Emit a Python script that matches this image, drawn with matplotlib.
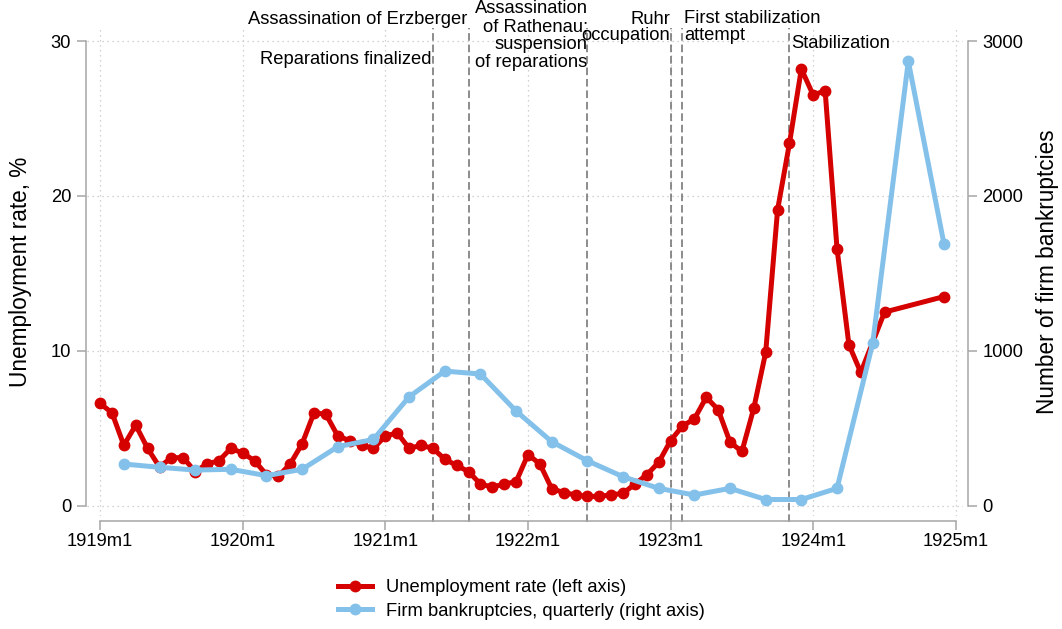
import matplotlib
matplotlib.use("Agg")
import matplotlib.pyplot as plt
from matplotlib.lines import Line2D

plt.rcParams['font.family'] = ['Liberation Sans', 'DejaVu Sans']

# ---------------- data ----------------
# month index: 0 = 1919m1
unemp_months = list(range(0, 65)) + [66, 71]
unemp_rate = [6.6, 6.0, 3.9, 5.2, 3.7, 2.5, 3.1, 3.1, 2.2, 2.7,
              2.9, 3.7, 3.4, 2.9, 2.0, 1.9, 2.7, 4.0, 6.0, 5.9,
              4.5, 4.2, 3.9, 3.7, 4.5, 4.7, 3.7, 3.9, 3.7, 3.0,
              2.6, 2.2, 1.4, 1.2, 1.4, 1.55, 3.3, 2.7, 1.1, 0.85,
              0.7, 0.6, 0.6, 0.7, 0.8, 1.4, 2.0, 2.8, 4.2, 5.15,
              5.6, 7.0, 6.2, 4.1, 3.5, 6.3, 9.9, 19.1, 23.4, 28.2,
              26.5, 26.8, 16.6, 10.4, 8.6, 12.5, 13.5]

bankr_months = [2, 5, 8, 11, 14, 17, 20, 23, 26, 29, 32, 35,
                38, 41, 44, 47, 50, 53, 56, 59, 62, 65, 68, 71]
bankruptcies = [269, 248, 230, 235, 194, 235, 381, 428, 703, 869, 850, 611,
                413, 290, 187, 112, 69, 112, 40, 40, 112, 1048, 2869, 1690]

xtick_pos = [0, 12, 24, 36, 48, 60, 72]
xtick_labels = ['1919m1', '1920m1', '1921m1', '1922m1', '1923m1', '1924m1', '1925m1']
left_ticks = [0, 10, 20, 30]
right_ticks = [0, 1000, 2000, 3000]

event_months = [28, 31, 41, 48, 49, 58]
event_labels = ['Reparations finalized', 'Assassination of Erzberger',
                'Assassination\nof Rathenau;\nsuspension\nof reparations',
                'Ruhr\noccupation', 'First stabilization', 'attempt', 'Stabilization']

# ---------------- style ----------------
RED = '#d50000'
BLUE = '#84c1ea'
GRAY = '#a6a6a6'
FS = 13.2

W, H = 1062, 629
fig = plt.figure(figsize=(W / 100, H / 100), dpi=100)
left_px, right_px, top_px, bot_px = 87, 963, 28, 516
ax = fig.add_axes([left_px / W, 1 - bot_px / H, (right_px - left_px) / W, (bot_px - top_px) / H])
ax2 = ax.twinx()

ax.set_xlim(-1.1, 72.6)
ax.set_ylim(-0.665, 30.84)
ax2.set_ylim(-66.5, 3084)

# grid
ax.set_xticks(xtick_pos)
ax.set_xticklabels(xtick_labels)
ax.set_yticks(left_ticks)
ax2.set_yticks(right_ticks)
ax.grid(True, linestyle=(0, (1, 3)), color='#c4c4c4', linewidth=0.9)
ax.set_axisbelow(True)

# spines
for s in ['top', 'right']:
    ax.spines[s].set_visible(False)
for s in ['top', 'left', 'bottom']:
    ax2.spines[s].set_visible(False)
ax.spines['left'].set_bounds(0, 30)
ax.spines['left'].set_position(('outward', 1))
ax.spines['bottom'].set_bounds(0, 72)
ax.spines['bottom'].set_position(('outward', 3.4))
ax2.spines['right'].set_bounds(0, 3000)
ax2.spines['right'].set_position(('outward', 3.6))
for sp in [ax.spines['left'], ax.spines['bottom'], ax2.spines['right']]:
    sp.set_color(GRAY)
    sp.set_linewidth(1.1)

ax.tick_params(axis='both', direction='out', length=6.5, width=1.1, color=GRAY,
               labelsize=FS, labelcolor='black', pad=4)
ax.tick_params(axis='x', pad=2.5)
ax2.tick_params(axis='y', direction='out', length=6.5, width=1.1, color=GRAY,
                labelsize=FS, labelcolor='black', pad=4)

# event lines
for m in event_months:
    ax.axvline(m, ymin=-0.012, ymax=1.0, color='#6e6e6e', linestyle=(0, (5, 2.5)),
               linewidth=1.1, clip_on=False, zorder=1)

# series
ax.plot(unemp_months, unemp_rate, color=RED, linewidth=3.6, marker='o',
        markersize=7.5, markeredgecolor=RED, zorder=3, clip_on=False)
ax2.plot(bankr_months, bankruptcies, color=BLUE, linewidth=3.6, marker='o',
         markersize=7.5, markeredgecolor=BLUE, zorder=3, clip_on=False)

# annotations
off = 0.12
ax.text(event_months[0] - off, 28.5, event_labels[0], ha='right', va='baseline',
        fontsize=FS, clip_on=False)
ax.text(event_months[1] - off, 31.1, event_labels[1], ha='right', va='baseline',
        fontsize=FS, clip_on=False)
ax.text(event_months[2] + 0.02, 28.32, event_labels[2], ha='right', va='baseline',
        multialignment='right', fontsize=FS, linespacing=1.07, clip_on=False)
ax.text(event_months[3] - 0.02, 30.05, event_labels[3], ha='right', va='baseline',
        multialignment='right', fontsize=FS, linespacing=0.95, clip_on=False)
ax.text(event_months[4] + off, 31.18, event_labels[4], ha='left', va='baseline',
        fontsize=FS, clip_on=False)
ax.text(event_months[4] + off, 30.05, event_labels[5], ha='left', va='baseline',
        fontsize=FS, clip_on=False)
ax.text(event_months[5] + off, 29.53, event_labels[6], ha='left', va='baseline',
        fontsize=FS, clip_on=False)

# axis labels
ax.set_ylabel('Unemployment rate, %', fontsize=16.3)
ax.yaxis.set_label_coords((32 - left_px) / (right_px - left_px), 0.5)
ax2.set_ylabel('Number of firm bankruptcies', fontsize=16.3, rotation=90)
ax2.yaxis.set_label_coords((1036 - left_px) / (right_px - left_px), 0.5)

# legend
handles = [Line2D([], [], color=RED, linewidth=3.6, marker='o', markersize=7.5),
           Line2D([], [], color=BLUE, linewidth=3.6, marker='o', markersize=7.5)]
labels = ['Unemployment rate (left axis)', 'Firm bankruptcies, quarterly (right axis)']
fig.legend(handles, labels, loc='center', bbox_to_anchor=(521.8 / W, 1 - 599.7 / H),
           frameon=False, fontsize=FS, handlelength=1.83, handletextpad=0.8,
           labelspacing=0.35, borderpad=0, markerfirst=True)

fig.savefig('out.png', dpi=100)
